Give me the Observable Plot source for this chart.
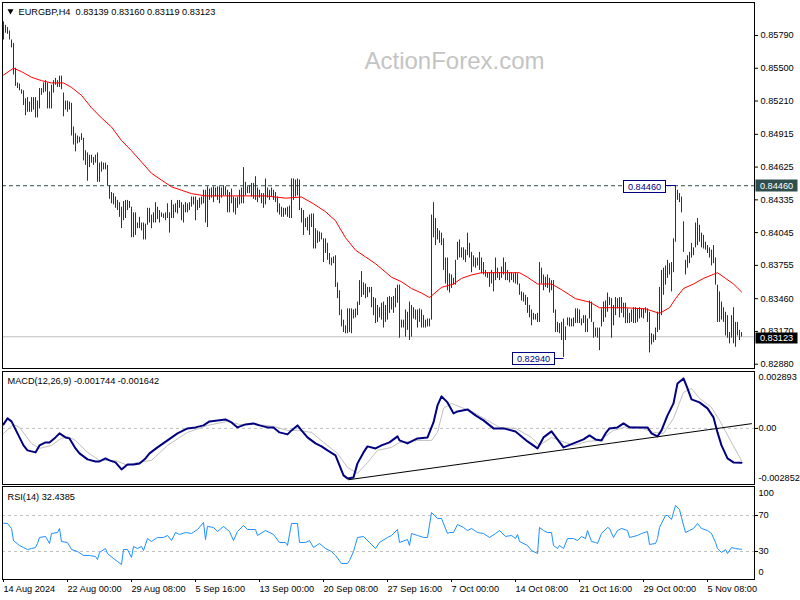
<!DOCTYPE html>
<html><head><meta charset="utf-8">
<script src="https://cdn.jsdelivr.net/npm/d3@7"></script>
<script src="https://cdn.jsdelivr.net/npm/@observablehq/plot@0.6"></script>
<style>
body{margin:0;background:#fff;}
#chart{position:relative;width:800px;height:600px;overflow:hidden;background:#fff;}
#chart svg{position:absolute;left:0;}
</style></head><body><div id="chart"></div>
<script>
// ---- price bars (units of 0.0001) ----
const high = [8591,8588,8586,8583,8575,8572,8550,8537,8536,8531,8530,8523,8524,8520,8524,8524,8524,8521,8532,8532,
8537,8539,8537,8529,8535,8539,8541,8539,8543,8543,8528,8521,8521,8520,8519,8498,8492,8490,8489,8492,
8488,8477,8475,8473,8473,8471,8473,8475,8466,8467,8466,8466,8464,8446,8440,8439,8436,8433,8431,8427,
8432,8433,8433,8432,8427,8422,8422,8413,8418,8413,8413,8412,8426,8426,8420,8422,8431,8427,8424,8422,
8421,8422,8430,8422,8433,8429,8430,8433,8433,8431,8429,8431,8430,8431,8436,8436,8436,8433,8435,8436,
8442,8442,8445,8443,8444,8445,8444,8445,8445,8444,8446,8445,8442,8440,8443,8436,8435,8436,8442,8444,
8462,8449,8445,8446,8448,8448,8454,8444,8442,8439,8439,8452,8444,8442,8444,8442,8440,8436,8430,8427,
8426,8426,8427,8428,8452,8452,8451,8452,8451,8426,8424,8417,8418,8420,8421,8421,8408,8406,8405,8404,
8399,8399,8395,8386,8382,8383,8384,8360,8353,8336,8327,8322,8337,8337,8337,8336,8337,8343,8362,8370,
8360,8359,8356,8356,8356,8347,8346,8340,8338,8342,8343,8340,8347,8348,8347,8348,8355,8358,8358,8327,
8327,8336,8334,8343,8340,8338,8336,8336,8337,8336,8331,8327,8328,8328,8420,8431,8417,8408,8406,8404,
8399,8382,8382,8368,8367,8364,8380,8396,8398,8391,8391,8389,8404,8395,8387,8384,8382,8382,8387,8382,
8378,8371,8369,8369,8371,8369,8382,8373,8369,8374,8382,8378,8371,8369,8369,8368,8369,8368,8359,8352,
8351,8349,8347,8340,8336,8333,8332,8333,8378,8373,8367,8365,8367,8364,8362,8362,8336,8325,8324,8325,
8328,8321,8329,8329,8328,8329,8337,8337,8336,8328,8331,8331,8328,8344,8343,8325,8320,8320,8320,8337,
8343,8344,8351,8347,8346,8340,8347,8346,8347,8347,8342,8342,8337,8333,8336,8338,8338,8337,8338,8337,
8337,8338,8337,8334,8315,8314,8320,8334,8356,8371,8373,8375,8380,8377,8378,8399,8446,8442,8439,8436,
8414,8380,8384,8387,8395,8391,8413,8417,8411,8404,8402,8396,8393,8391,8389,8393,8382,8358,8352,8343,
8338,8334,8331,8316,8331,8338,8325,8325,8318,8316];
const low = [8575,8581,8580,8575,8568,8544,8534,8532,8530,8527,8517,8508,8511,8511,8511,8513,8506,8506,8514,8526,
8528,8529,8514,8514,8514,8528,8535,8533,8533,8531,8507,8513,8511,8513,8490,8482,8476,8483,8484,8486,
8468,8464,8450,8462,8466,8464,8466,8449,8449,8458,8460,8460,8446,8434,8430,8429,8426,8424,8418,8408,
8415,8417,8424,8426,8400,8400,8402,8408,8408,8406,8398,8398,8411,8413,8408,8413,8413,8416,8413,8418,
8417,8415,8417,8404,8417,8417,8422,8421,8426,8415,8413,8422,8422,8424,8427,8429,8415,8424,8426,8429,
8430,8413,8409,8433,8435,8431,8436,8433,8430,8435,8437,8437,8422,8422,8430,8422,8420,8426,8429,8430,
8430,8437,8439,8439,8436,8434,8433,8431,8435,8430,8426,8429,8435,8433,8436,8433,8431,8422,8420,8418,
8418,8420,8418,8417,8417,8433,8436,8437,8424,8413,8402,8409,8406,8402,8409,8390,8390,8395,8396,8398,
8378,8386,8380,8376,8375,8377,8356,8346,8331,8321,8316,8315,8315,8316,8315,8328,8329,8331,8340,8347,
8349,8346,8347,8351,8338,8331,8324,8325,8329,8327,8320,8325,8327,8333,8336,8333,8338,8342,8311,8320,
8320,8312,8318,8309,8312,8328,8327,8320,8325,8320,8320,8320,8321,8321,8327,8400,8393,8398,8395,8393,
8371,8359,8353,8351,8355,8358,8358,8380,8382,8382,8380,8378,8384,8382,8369,8374,8373,8375,8371,8368,
8367,8365,8364,8356,8359,8352,8362,8364,8362,8364,8367,8362,8362,8360,8362,8360,8359,8358,8349,8344,
8343,8340,8333,8329,8322,8327,8327,8325,8325,8359,8353,8356,8355,8351,8353,8333,8316,8316,8315,8309,
8294,8309,8322,8321,8321,8321,8324,8324,8324,8322,8324,8316,8316,8328,8325,8311,8312,8311,8300,8321,
8325,8329,8334,8340,8311,8322,8331,8337,8329,8333,8329,8324,8324,8324,8325,8324,8324,8325,8328,8329,
8328,8333,8325,8298,8305,8307,8309,8316,8318,8331,8349,8358,8364,8367,8352,8369,8396,8433,8431,8422,
8387,8367,8373,8377,8382,8384,8391,8393,8396,8391,8390,8389,8386,8382,8375,8377,8358,8325,8325,8327,
8325,8313,8311,8306,8311,8306,8303,8313,8309,8312];
// ---- moving average (read at sample bars) ----
const maIdx = [0,5,9,14,19,24,30,34,39,44,49,54,59,64,69,74,79,84,89,94,101,111,121,131,141,149,155,161,166,171,176,181,186,194,199,204,209,213,219,225,229,234,239,249,258,262,267,274,279,286,293,298,310,321,328,333,336,340,345,350,357,361,365,369];
const maVal = [8544,8550,8547,8542,8539,8537,8537,8533,8526,8515,8506,8498,8486,8477,8467,8457,8451,8445,8442,8439,8437,8437,8437,8437,8435,8436,8430,8423,8415,8400,8389,8383,8377,8365,8361,8355,8351,8347,8356,8359,8364,8367,8369,8369,8369,8365,8359,8359,8354,8346,8343,8338,8338,8337,8333,8338,8346,8355,8359,8364,8369,8364,8359,8352];
// ---- MACD (units of 1e-6) ----
const macdIdx = [0,2,4,7,10,12,16,18,21,23,26,28,31,33,36,38,42,46,48,51,53,56,59,62,65,68,71,73,77,82,87,92,96,100,103,107,111,114,117,121,125,128,132,135,138,142,144,147,149,152,156,159,162,166,168,170,172,175,177,180,182,186,189,193,197,198,202,207,212,215,217,219,222,225,227,232,236,240,245,250,256,262,267,270,274,277,280,285,290,293,296,299,301,303,307,310,313,318,322,324,327,329,332,335,337,340,342,344,348,352,355,357,359,362,365,369];
const macdVal = [203,508,356,-254,-864,-1118,-1220,-864,-712,-712,-458,-254,-458,-508,-1017,-1271,-1576,-1678,-1678,-1525,-1627,-1729,-2084,-1830,-1830,-1779,-1525,-1271,-966,-610,-254,0,51,153,356,407,458,305,51,203,254,153,51,51,-203,-305,-102,153,-102,-458,-763,-915,-1118,-1373,-1881,-2389,-2542,-2491,-1779,-1220,-915,-1017,-864,-712,-407,-610,-763,-508,-458,305,1169,1627,1322,763,864,966,661,407,0,0,-153,-661,-1017,-458,-153,-559,-966,-763,-559,-356,-559,-610,-254,0,51,254,51,51,51,-254,-407,-102,661,1271,2288,2542,2034,1474,1322,1017,559,-203,-864,-1525,-1729,-1744];
const sigIdx = [0,5,8,14,18,24,28,32,36,42,48,56,62,67,74,82,92,102,112,118,127,135,142,147,154,160,167,172,177,182,187,194,198,207,214,217,220,224,229,235,242,248,256,264,268,274,278,285,292,298,305,312,318,325,330,335,340,344,348,354,358,364,369];
const sigVal = [-254,203,51,-763,-1017,-864,-559,-407,-610,-1220,-1627,-1627,-1881,-1729,-1627,-864,-203,153,356,203,203,102,-102,-102,-203,-712,-1271,-1983,-2288,-1729,-1118,-966,-712,-610,-610,-203,1017,1271,1068,813,407,51,0,-458,-864,-458,-610,-864,-661,-610,-102,102,51,-203,-254,508,1830,2034,1525,1068,407,-712,-1642];
const trendIdx = [172.5, 374];
const trendVal = [-0.00261, 0.00024];
const macdRange = [-0.002852, 0.002893];
// ---- RSI ----
const rsiIdx = [0,2,4,5,8,10,12,14,16,17,18,21,23,24,27,28,29,32,34,37,40,43,46,47,48,51,52,55,57,59,60,62,64,65,67,69,70,72,74,77,80,82,84,86,88,91,94,97,100,101,102,105,107,110,113,115,117,120,122,126,127,131,135,138,141,142,144,147,148,151,153,155,158,161,164,166,169,172,173,175,177,180,183,186,188,192,194,197,198,202,203,204,207,210,212,214,217,219,222,223,225,227,230,232,234,237,240,243,246,248,251,254,256,257,258,262,264,267,268,270,272,274,275,277,278,280,282,285,287,289,291,292,294,296,297,299,302,303,305,307,309,312,313,317,319,322,323,326,327,328,331,332,334,336,338,339,341,343,345,347,349,352,354,356,357,359,361,362,364,366,369];
const rsiVal = [61.4,61.1,55.6,42.2,36.7,34.4,32.2,33.3,34.4,38.9,45.6,46.7,38.9,50,51.1,55.6,41.1,40,32.2,30,25.6,25.6,24.4,21.1,28.9,33.3,27.8,22.2,18.9,15.6,32.2,32.2,23.3,35.6,33.3,35.6,31.1,44.4,41.1,45.6,45.6,47.8,42.2,51.1,48.9,51.1,50,54.4,62.2,43.3,57.8,56.7,52.2,57.8,52.2,42.2,52.2,58.9,54.4,54.4,47.8,53.3,48.9,40,40,36.7,61.1,61.1,40,40,42.2,34.4,38.9,33.3,30,25.6,16.7,16.7,20,30,45.6,46.7,40,33.3,40,45.6,47.8,54.4,40,43.3,36.7,50,47.8,45.6,45.6,73.3,66.7,66.7,50,51.1,51.1,60,56.7,53.3,55.6,51.1,50,45.6,50,53.3,46.7,47.8,44.4,48.9,41.1,36.7,31.1,27.8,56.7,53.3,51.1,51.1,36.7,33.3,36.7,33.3,44.4,44.4,42.2,46.7,44.4,53.3,41.1,40,38.9,50,56.7,55.6,45.6,53.3,55.6,53.3,45.6,47.8,50,52.2,37.8,38.9,44.4,56.7,70,70,65.6,81.1,76.7,67.8,51.1,53.3,55.6,61.1,55.6,53.3,50,40,33.3,28.9,32.2,27.8,34.4,33.3,32.4];
const rsiLevels = [30, 70];
// ---- labels ----
const priceTicks = [0.85790,0.85500,0.85210,0.84915,0.84625,0.84335,0.84045,0.83755,0.83460,0.83170,0.82880];
const dateTickIdx = [0,32,64,96,128,160,192,224,256,288,320,352];
const dateLabels = ["14 Aug 2024","22 Aug 00:00","29 Aug 08:00","5 Sep 16:00","13 Sep 00:00","20 Sep 08:00","27 Sep 16:00","7 Oct 00:00","14 Oct 08:00","21 Oct 16:00","29 Oct 00:00","5 Nov 08:00"];
const symbolName = "EURGBP,H4";
const lastOHLC = [0.83139, 0.83160, 0.83119, 0.83123];
const markIdx = [336, 280];
const markPrice = [0.84460, 0.82940];
const macdLast = [-0.001744, -0.001642];
const rsiLast = 32.4385;

const FONT = "'Liberation Sans', Arial, sans-serif";
const FS = "9.2px";
const X = {type: "linear", domain: [-0.5, 375.5], axis: null};
const bars = high.map((h, i) => ({i, high: h / 1e4, low: low[i] / 1e4}));
const ma = maIdx.map((i, k) => ({i, v: maVal[k] / 1e4}));
const macd = macdIdx.map((i, k) => ({i, v: macdVal[k] / 1e6}));
const sig = sigIdx.map((i, k) => ({i, v: sigVal[k] / 1e6}));
const trend = trendIdx.map((i, k) => ({i, v: trendVal[k]}));
const rsi = rsiIdx.map((i, k) => ({i, v: rsiVal[k]}));
const style = {fontFamily: FONT, fontSize: FS, background: "transparent", overflow: "visible", color: "black"};

const chart = document.getElementById("chart");

// ---- main panel ----
const main = Plot.plot({
  width: 800, height: 370, marginLeft: 2, marginRight: 46, marginTop: 2, marginBottom: 2,
  x: X, y: {domain: [0.82842, 0.86082], axis: null}, style,
  marks: [
    Plot.text(["ActionForex.com"], {frameAnchor: "top-left", dx: 362, dy: 66, lineAnchor: "bottom", textAnchor: "start", fontSize: 24, fill: "#c4c4c4"}),
    Plot.ruleY([markPrice[0]], {stroke: "#2f4f4f", strokeDasharray: "4,3"}),
    Plot.ruleY([lastOHLC[3]], {stroke: "#c0c0c0"}),
    Plot.ruleX(bars, {x: "i", y1: "low", y2: "high", stroke: "#103a58"}),
    Plot.line(ma, {x: "i", y: "v", stroke: "#ff0000", strokeWidth: 1}),
    Plot.axisY(priceTicks, {anchor: "right", tickSize: 3, tickPadding: 3, tickFormat: d3.format(".5f"), label: null}),
    Plot.frame({stroke: "black"}),
    Plot.dot([0], {frameAnchor: "top-left", dx: 8, dy: 8.5, symbol: "triangle", rotate: 180, r: 2.2, fill: "black", stroke: "none"}),
    Plot.text([symbolName + "\u00a0 " + lastOHLC.map(d3.format(".5f")).join(" ")], {frameAnchor: "top-left", dx: 16, dy: 12, lineAnchor: "bottom", textAnchor: "start"})
  ]
});
main.style.top = "0px";
chart.appendChild(main);

function addBox(svg, x, y, w, h, fill, stroke, text, color) {
  const g = d3.select(svg).append("g");
  g.append("rect").attr("x", Math.round(x) + 0.5).attr("y", Math.round(y) + 0.5).attr("width", w).attr("height", h)
    .attr("fill", fill).attr("stroke", stroke || "none");
  g.append("text").attr("x", Math.round(x) + w / 2 + 0.5).attr("y", Math.round(y) + h / 2 + 0.5).attr("dy", "0.35em")
    .attr("text-anchor", "middle").attr("fill", color).attr("font-size", FS).attr("font-family", FONT).text(text);
}
{
  const sx = main.scale("x"), sy = main.scale("y");
  const right = 800 - 46;
  const f5 = d3.format(".5f");
  // marked high / low annotations
  markIdx.forEach((idx, k) => {
    const bx = sx.apply(idx), by = sy.apply(markPrice[k]);
    const gap = k === 0 ? 10 : 9;
    const ly = Math.round(by) + (k === 0 ? 0.5 : 1.5);
    d3.select(main).append("line").attr("x1", bx - gap).attr("x2", bx + 0.5).attr("y1", ly).attr("y2", ly).attr("stroke", "#000080");
    addBox(main, bx - gap - 42, by - 5, 42, 12, "white", "#000080", f5(markPrice[k]), "#000080");
  });
  addBox(main, right + 1, sy.apply(markPrice[0]) - 6, 42, 12, "#2f4f4f", null, f5(markPrice[0]), "white");
  addBox(main, right + 1, sy.apply(lastOHLC[3]) - 4, 42, 11, "black", null, f5(lastOHLC[3]), "white");
}

// ---- MACD panel ----
const macdPlot = Plot.plot({
  width: 800, height: 117, marginLeft: 2, marginRight: 46, marginTop: 2, marginBottom: 2,
  x: X, y: {domain: macdRange, axis: null}, style,
  marks: [
    Plot.ruleY([0], {stroke: "#c0c0c0", strokeDasharray: "3,3"}),
    Plot.line(sig, {x: "i", y: "v", stroke: "#c0c0c0", strokeWidth: 1}),
    Plot.line(macd, {x: "i", y: "v", stroke: "#000080", strokeWidth: 2}),
    Plot.line(trend, {x: "i", y: "v", stroke: "black", strokeWidth: 1}),
    Plot.axisY([0], {anchor: "right", tickSize: 3, tickPadding: 1, tickFormat: () => "0.00", label: null}),
    Plot.text([macdRange[1]], {frameAnchor: "top-right", dx: 4, dy: 6, text: d => d.toFixed(6), textAnchor: "start", lineAnchor: "middle"}),
    Plot.text([macdRange[0]], {frameAnchor: "bottom-right", dx: 4, dy: -6, text: d => d.toFixed(6), textAnchor: "start", lineAnchor: "middle"}),
    Plot.frame({stroke: "black"}),
    Plot.text(["MACD(12,26,9) " + macdLast.map(d => d.toFixed(6)).join(" ")], {frameAnchor: "top-left", dx: 5, dy: 12, lineAnchor: "bottom", textAnchor: "start"})
  ]
});
macdPlot.style.top = "369px";
chart.appendChild(macdPlot);

// ---- RSI panel ----
const rsiPlot = Plot.plot({
  width: 800, height: 116, marginLeft: 2, marginRight: 46, marginTop: 2, marginBottom: 21,
  x: X, y: {domain: [-1.1, 102.2], axis: null}, style,
  marks: [
    Plot.ruleY(rsiLevels, {stroke: "#c0c0c0", strokeDasharray: "3,3"}),
    Plot.line(rsi, {x: "i", y: "v", stroke: "#1e90ff", strokeWidth: 1}),
    Plot.axisY(rsiLevels, {anchor: "right", tickSize: 3, tickPadding: 1, label: null}),
    Plot.axisY([100], {anchor: "right", tickSize: 0, tickPadding: 4, dy: 5, label: null}),
    Plot.axisY([0], {anchor: "right", tickSize: 0, tickPadding: 4, dy: -6, label: null}),
    Plot.axisX(dateTickIdx, {anchor: "bottom", tickSize: 3, tickPadding: 3, textAnchor: "start", tickFormat: d => dateLabels[dateTickIdx.indexOf(d)], label: null}),
    Plot.frame({stroke: "black"}),
    Plot.text(["RSI(14) " + rsiLast], {frameAnchor: "top-left", dx: 5, dy: 13, lineAnchor: "bottom", textAnchor: "start"})
  ]
});
rsiPlot.style.top = "484px";
chart.appendChild(rsiPlot);
</script></body></html>
